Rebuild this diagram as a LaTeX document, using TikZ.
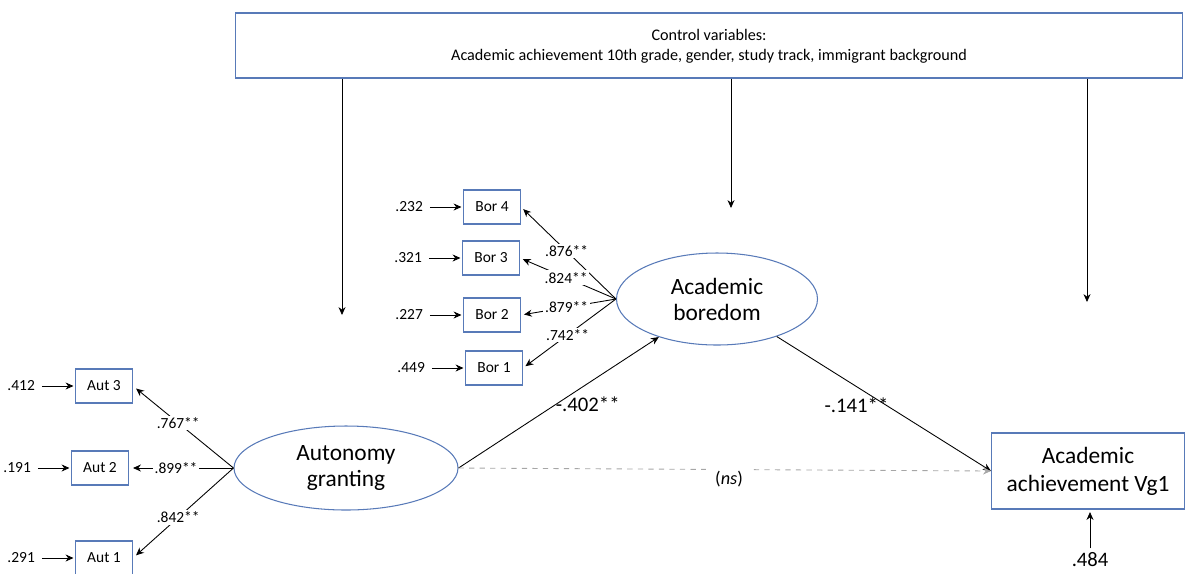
\documentclass[tikz,border=0pt]{standalone}
\usepackage{fontspec}
\setmainfont{Carlito}
\usetikzlibrary{shapes.geometric, arrows.meta, positioning}
\definecolor{outlineblue}{RGB}{88,122,184}

\begin{document}
\begin{tikzpicture}[x=0.2mm, y=-0.2mm, node distance=7.6mm,
  indicator/.style={rectangle, draw=outlineblue, line width=0.6pt, inner sep=0pt, minimum width=11.4mm, minimum height=6.8mm, font=\fontsize{8.8}{10}\selectfont},
  latent/.style={ellipse, draw=outlineblue, line width=0.6pt, inner sep=0pt, align=center, font=\fontsize{13.3}{14.8}\selectfont},
  outcome/.style={rectangle, draw=outlineblue, line width=0.6pt, inner sep=0pt, align=center, font=\fontsize{13.3}{15.8}\selectfont},
  small/.style={font=\fontsize{8.8}{10}\selectfont, inner sep=1pt},
  loading/.style={small, fill=white, pos=0.52},
  path label/.style={font=\fontsize{11.8}{13}\selectfont, inner sep=0pt},
  arrow/.style={draw=black, line width=0.5pt, -{Stealth[length=4.5pt, width=4pt]}}]

  \useasboundingbox (0,0) rectangle (1185,573);

  \node [rectangle, draw=outlineblue, line width=0.6pt, minimum width=189.4mm, minimum height=13mm] (controls) at (709,45.5) {};
  \node [align=center, font=\fontsize{9.2}{11.3}\selectfont] (controltext) at (709,46) {Control variables:\\Academic achievement 10th grade, gender, study track, immigrant background};

  \node [latent, minimum width=44.8mm, minimum height=16.8mm] (autonomy) at (346,468) {Autonomy\\granting};
  \node [latent, minimum width=40.2mm, minimum height=18.4mm] (boredom) at (717,299) {Academic\\boredom};
  \node [outcome, minimum width=38.6mm, minimum height=15.2mm] (achievement) at (1088,471) {Academic\\achievement Vg1};

  \node [indicator] (bor4) at (492,207) {Bor 4};
  \node [indicator] (bor3) at (491,258) {Bor 3};
  \node [indicator] (bor2) at (492,315) {Bor 2};
  \node [indicator] (bor1) at (494,368) {Bor 1};
  \node [indicator] (aut3) at (104,386) {Aut 3};
  \node [indicator] (aut2) at (100,468) {Aut 2};
  \node [indicator] (aut1) at (104,558) {Aut 1};

  \node [small, left=of bor4] (ebor4) {.232};
  \node [small, left=of bor3] (ebor3) {.321};
  \node [small, left=of bor2] (ebor2) {.227};
  \node [small, left=of bor1] (ebor1) {.449};
  \node [small, left=of aut3] (eaut3) {.412};
  \node [small, left=of aut2] (eaut2) {.191};
  \node [small, left=of aut1] (eaut1) {.291};
  \node [font=\fontsize{11.7}{13}\selectfont, inner sep=1pt] (eachievement) at (1090,560) {.484};

  \coordinate (cleft) at (342,315);
  \coordinate (cmid) at (731,208);
  \coordinate (cright) at (1087,302);

  \draw [arrow] (controls.south -| cleft) -- (cleft);
  \draw [arrow] (controls.south -| cmid) -- (cmid);
  \draw [arrow] (controls.south -| cright) -- (cright);

  \foreach \e/\v in {ebor4/bor4, ebor3/bor3, ebor2/bor2, ebor1/bor1, eaut3/aut3, eaut2/aut2, eaut1/aut1}
    \draw [arrow, shorten <=1mm, shorten >=0.3mm] (\e) -- (\v);
  \draw [arrow, shorten <=0.5mm, shorten >=0.5mm] (eachievement.north) -- (eachievement.north |- achievement.south);

  \draw [arrow, shorten >=0.6mm] (boredom.west) -- node[loading] {.876**} (bor4.east);
  \draw [arrow, shorten >=0.6mm] (boredom.west) -- node[loading] {.824**} (bor3.east);
  \draw [arrow, shorten >=0.6mm] (boredom.west) -- node[loading] {.879**} (bor2.east);
  \draw [arrow, shorten >=0.6mm] (boredom.west) -- node[loading] {.742**} (bor1.east);
  \draw [arrow, shorten >=0.8mm] (autonomy.west) -- node[loading, pos=0.55] {.767**} (aut3.east);
  \draw [arrow, shorten >=0.8mm] (autonomy.west) -- node[loading, pos=0.55] {.899**} (aut2.east);
  \draw [arrow, shorten >=0.8mm] (autonomy.west) -- node[loading, pos=0.55] {.842**} (aut1.east);

  \draw [arrow] (autonomy.east) -- node[path label, pos=0.645, yshift=-4.2mm] {-.402**} (boredom);
  \draw [arrow] (boredom) -- node[path label, pos=0.372, yshift=-3.8mm] {-.141**} (achievement.west);
  \draw [arrow, draw=gray!70, dashed, -{Stealth[length=4.5pt, width=4pt, gray!70]}] (autonomy.east) -- node[pos=0.508, yshift=-2mm, fill=white, inner xsep=1.8mm, inner ysep=1mm, font=\fontsize{10.4}{12}\selectfont, text=black] {(\textit{ns})} (achievement.west);
\end{tikzpicture}
\end{document}
